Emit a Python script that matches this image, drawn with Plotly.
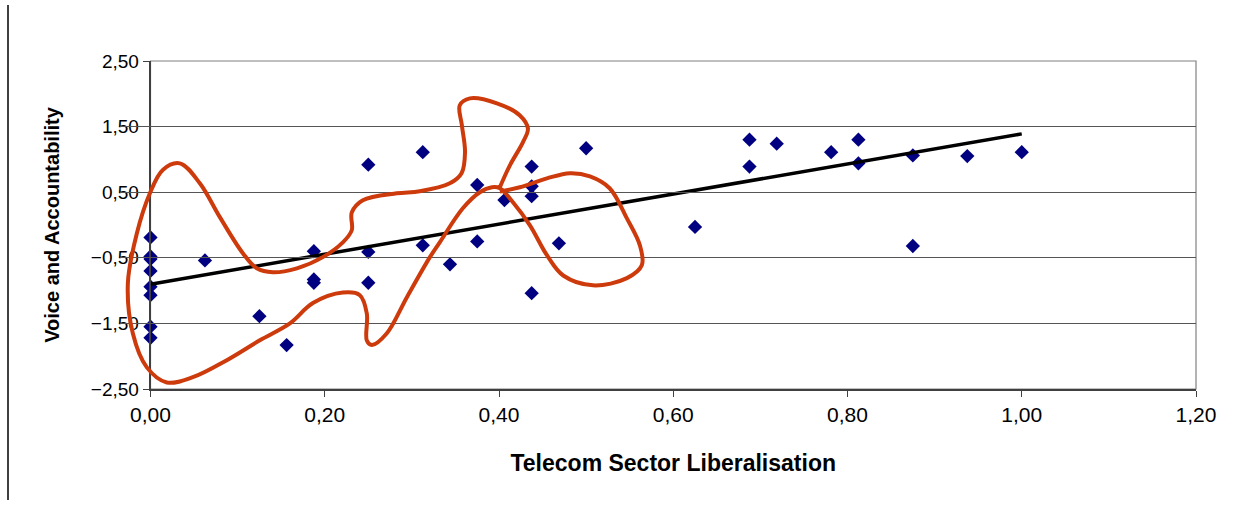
import numpy as np
import plotly.graph_objects as go

# Telecom sector liberalisation index vs. voice and accountability score
liberalisation = [0, 0, 0, 0, 0, 0, 0, 0,
                  0.0625, 0.125, 0.15625,
                  0.1875, 0.1875, 0.1875,
                  0.25, 0.25, 0.25,
                  0.3125, 0.3125, 0.34375,
                  0.375, 0.375, 0.40625,
                  0.4375, 0.4375, 0.4375, 0.4375,
                  0.46875, 0.5, 0.625,
                  0.6875, 0.6875, 0.71875, 0.78125,
                  0.8125, 0.8125, 0.875, 0.875, 0.9375, 1.0]
voice = [-0.19, -0.48, -0.52, -0.70, -0.94, -1.07, -1.55, -1.72,
         -0.54, -1.39, -1.83,
         -0.40, -0.83, -0.88,
         0.92, -0.41, -0.88,
         1.11, -0.31, -0.60,
         0.61, -0.25, 0.38,
         0.89, 0.59, 0.44, -1.04,
         -0.28, 1.17, -0.03,
         1.30, 0.89, 1.24, 1.11,
         1.30, 0.94, 1.06, -0.32, 1.05, 1.11]

# Freehand highlight loop (data units)
loop_x = [0.401, 0.4125, 0.4274, 0.4332, 0.424, 0.3976, 0.3666, 0.355, 0.3574, 0.361,
          0.357, 0.3436, 0.309, 0.2827, 0.2437, 0.231, 0.231, 0.2208, 0.1978, 0.168,
          0.1404, 0.122, 0.106, 0.0796, 0.0566, 0.0336, 0.0141, -0.0008, -0.0157, -0.026,
          -0.0203, -0.0042, 0.0187, 0.0486, 0.0876, 0.1255, 0.16, 0.1864, 0.2208, 0.2403,
          0.2483, 0.2483, 0.254, 0.2713, 0.2943, 0.3207, 0.332, 0.3585, 0.378, 0.392,
          0.401, 0.416, 0.4355, 0.455, 0.4737, 0.5078, 0.5468, 0.564, 0.5617, 0.5468,
          0.527, 0.5044, 0.4815, 0.455, 0.424, 0.401]
loop_y = [0.575, 0.91, 1.26, 1.47, 1.67, 1.855, 1.93, 1.825, 1.52, 1.11,
          0.79, 0.636, 0.514, 0.483, 0.377, 0.19, -0.08, -0.264, -0.49, -0.66,
          -0.72, -0.66, -0.43, 0.12, 0.636, 0.94, 0.84, 0.48, -0.13, -0.89,
          -1.65, -2.17, -2.40, -2.32, -2.06, -1.757, -1.50, -1.19, -1.03, -1.07,
          -1.35, -1.76, -1.83, -1.65, -1.10, -0.49, -0.264, 0.255, 0.50, 0.575,
          0.56, 0.346, -0.005, -0.46, -0.77, -0.92, -0.81, -0.61, -0.31, 0.10,
          0.56, 0.74, 0.79, 0.71, 0.575, 0.51]

x_range = [0, 1.2]
y_range = [-2.5, 2.5]
x_ticks = [0, 0.2, 0.4, 0.6, 0.8, 1.0, 1.2]
y_ticks = [-2.5, -1.5, -0.5, 0.5, 1.5, 2.5]

W, H = 1235, 510
margin = dict(l=120, r=39, t=61, b=121)
plot_w = W - margin["l"] - margin["r"]
plot_h = H - margin["t"] - margin["b"]
x_dom0 = (150.5 - margin["l"]) / plot_w

# Linear trend fitted to the scatter
slope, intercept = np.polyfit(liberalisation, voice, 1)
trend_x = np.array([0.0, max(liberalisation)])
trend_y = slope * trend_x + intercept

# Full-width helper axis so the loop can extend left of the y axis
units_per_paper = (x_range[1] - x_range[0]) / (1 - x_dom0)
x2_range = [x_range[0] - x_dom0 * units_per_paper, x_range[1]]

fig = go.Figure()
fig.add_trace(go.Scatter(
    x=liberalisation, y=voice, mode="markers",
    marker=dict(symbol="diamond", size=11, color="#000080"),
    cliponaxis=False, showlegend=False,
))
fig.add_trace(go.Scatter(
    x=trend_x, y=trend_y, mode="lines",
    line=dict(color="black", width=3.5), showlegend=False,
))
fig.add_trace(go.Scatter(
    x=loop_x, y=loop_y, mode="lines", xaxis="x2", yaxis="y",
    line=dict(color="#CD3A0C", width=4, shape="spline", smoothing=1.0),
    showlegend=False,
))

fig.update_layout(
    width=W, height=H, margin=margin,
    paper_bgcolor="white", plot_bgcolor="rgba(0,0,0,0)",
    separators=", ",
    font=dict(family="Liberation Sans, Arial, sans-serif", color="black"),
    xaxis=dict(
        domain=[x_dom0, 1], range=x_range, tickvals=x_ticks, tickformat=".2f",
        showgrid=False, zeroline=False, showline=True, linecolor="#404040", linewidth=1.5,
        ticks="outside", ticklen=6, tickcolor="#404040", tickfont=dict(size=21),
        title=dict(text="<b>Telecom Sector Liberalisation</b>", font=dict(size=23), standoff=30),
        anchor="y",
    ),
    xaxis2=dict(domain=[0, 1], range=x2_range, visible=False, anchor="y"),
    yaxis=dict(
        range=y_range, tickvals=y_ticks, tickformat=".2f",
        showgrid=True, gridcolor="#555555", gridwidth=1, zeroline=False,
        showline=True, linecolor="#404040", linewidth=1.5,
        ticks="outside", ticklen=6, tickcolor="#404040", tickfont=dict(size=19),
        title=dict(text="<b>Voice and Accountability</b>", font=dict(size=20), standoff=26),
        anchor="x",
    ),
    shapes=[
        # plot-area frame
        dict(type="rect", xref="x domain", yref="y domain", x0=0, x1=1, y0=0, y1=1,
             line=dict(color="#808080", width=1.2), layer="below"),
        # left page rule
        dict(type="line", xref="paper", yref="paper",
             x0=(8 - margin["l"]) / plot_w, x1=(8 - margin["l"]) / plot_w,
             y0=(H - 5 - margin["b"]) / plot_h,
             y1=(H - 500 - margin["b"]) / plot_h,
             line=dict(color="black", width=1.5)),
    ],
)

fig.write_html("out.html")
